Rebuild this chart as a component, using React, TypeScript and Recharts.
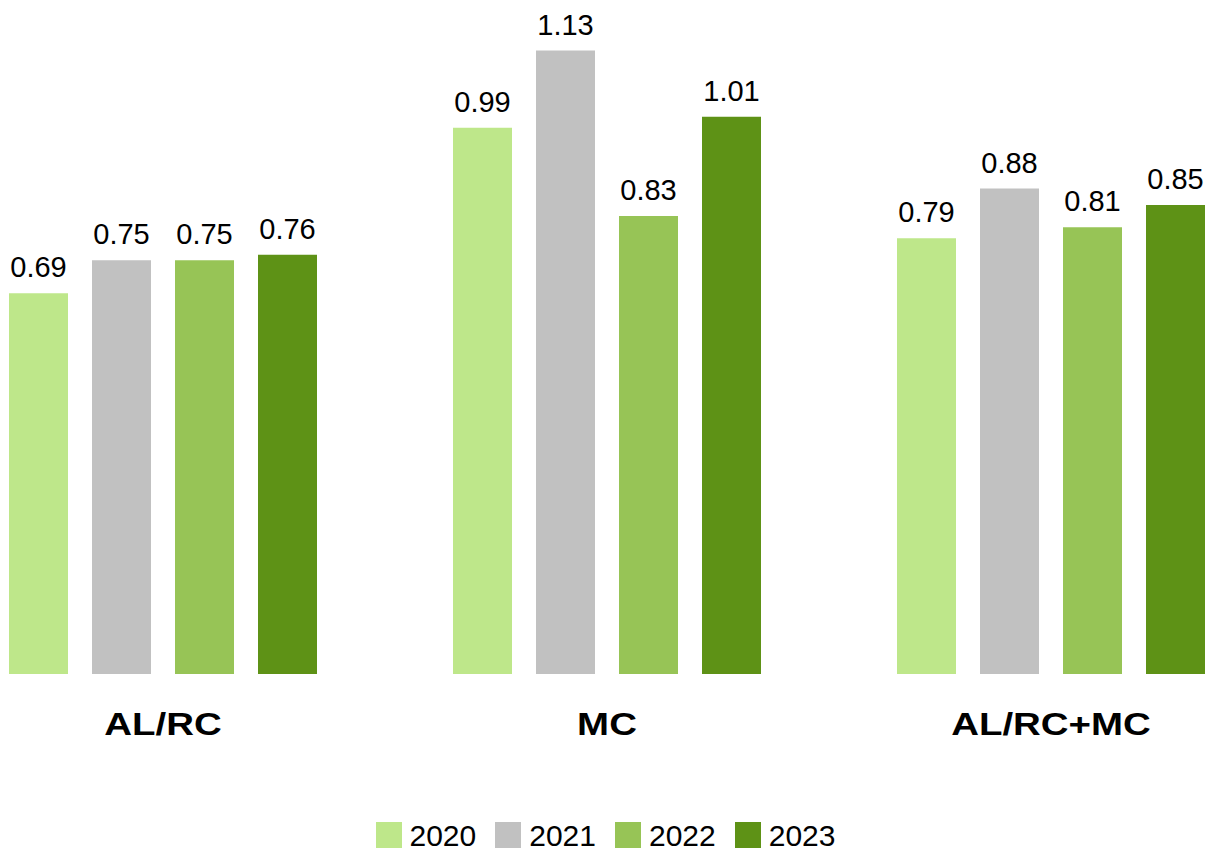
import React from "react";
import { BarChart, Bar, XAxis, YAxis, Legend, LabelList } from "recharts";

const FONT = "'Liberation Sans', Arial, Helvetica, sans-serif";

const categories = ["AL/RC", "MC", "AL/RC+MC"];
const years = ["2020", "2021", "2022", "2023"];
const values2020 = [0.69, 0.99, 0.79];
const values2021 = [0.75, 1.13, 0.88];
const values2022 = [0.75, 0.83, 0.81];
const values2023 = [0.76, 1.01, 0.85];
const COLORS = ["#bee78a", "#c1c1c1", "#97c456", "#5e9216"];

const series = [values2020, values2021, values2022, values2023];
const data = categories.map((cat, i) => {
  const row: Record<string, string | number> = { cat };
  years.forEach((y, j) => {
    row["y" + y] = series[j][i];
  });
  return row;
});

const CatTick = ({ x, y, payload }: any) => (
  <g transform={`translate(${x},${y + 61})`}>
    <text
      transform="scale(1.24,1)"
      textAnchor="middle"
      fontSize={31}
      fontWeight="bold"
      fill="#000"
      fontFamily={FONT}
    >
      {payload.value}
    </text>
  </g>
);

const renderLegend = () => (
  <div
    style={{
      display: "flex",
      justifyContent: "center",
      alignItems: "center",
      height: 26,
      lineHeight: "26px",
      paddingRight: 3,
      fontFamily: FONT,
      fontSize: 30,
      color: "#000",
    }}
  >
    {years.map((y, i) => (
      <div key={y} style={{ display: "flex", alignItems: "center", height: 26, marginLeft: i ? 19 : 0 }}>
        <span style={{ width: 26, height: 26, background: COLORS[i], display: "inline-block", marginRight: 8 }} />
        <span style={{ position: "relative", top: 1, height: 26 }}>{y}</span>
      </div>
    ))}
  </div>
);

export default function App() {
  return (
    <div style={{ position: "absolute", left: 0, top: 0, width: 1209, height: 850, overflow: "hidden", background: "#fff" }}>
      <div style={{ position: "absolute", left: -59, top: 0 }}>
        <BarChart
          width={1332}
          height={850}
          data={data}
          margin={{ top: 12, right: 0, left: 0, bottom: 2 }}
          barGap={24}
          barCategoryGap={68}
        >
          <XAxis
            dataKey="cat"
            axisLine={false}
            tickLine={false}
            tickSize={0}
            tickMargin={0}
            height={148}
            tick={<CatTick />}
            interval={0}
          />
          <YAxis hide domain={[0, 1.2]} />
          <Legend verticalAlign="bottom" content={renderLegend} />
          {years.map((y, i) => (
            <Bar key={y} dataKey={"y" + y} name={y} fill={COLORS[i]} barSize={59} isAnimationActive={false}>
              <LabelList
                dataKey={"y" + y}
                position="top"
                offset={16}
                fontSize={29}
                fill="#000"
                fontFamily={FONT}
                formatter={(v: any) => Number(v).toFixed(2)}
              />
            </Bar>
          ))}
        </BarChart>
      </div>
    </div>
  );
}
